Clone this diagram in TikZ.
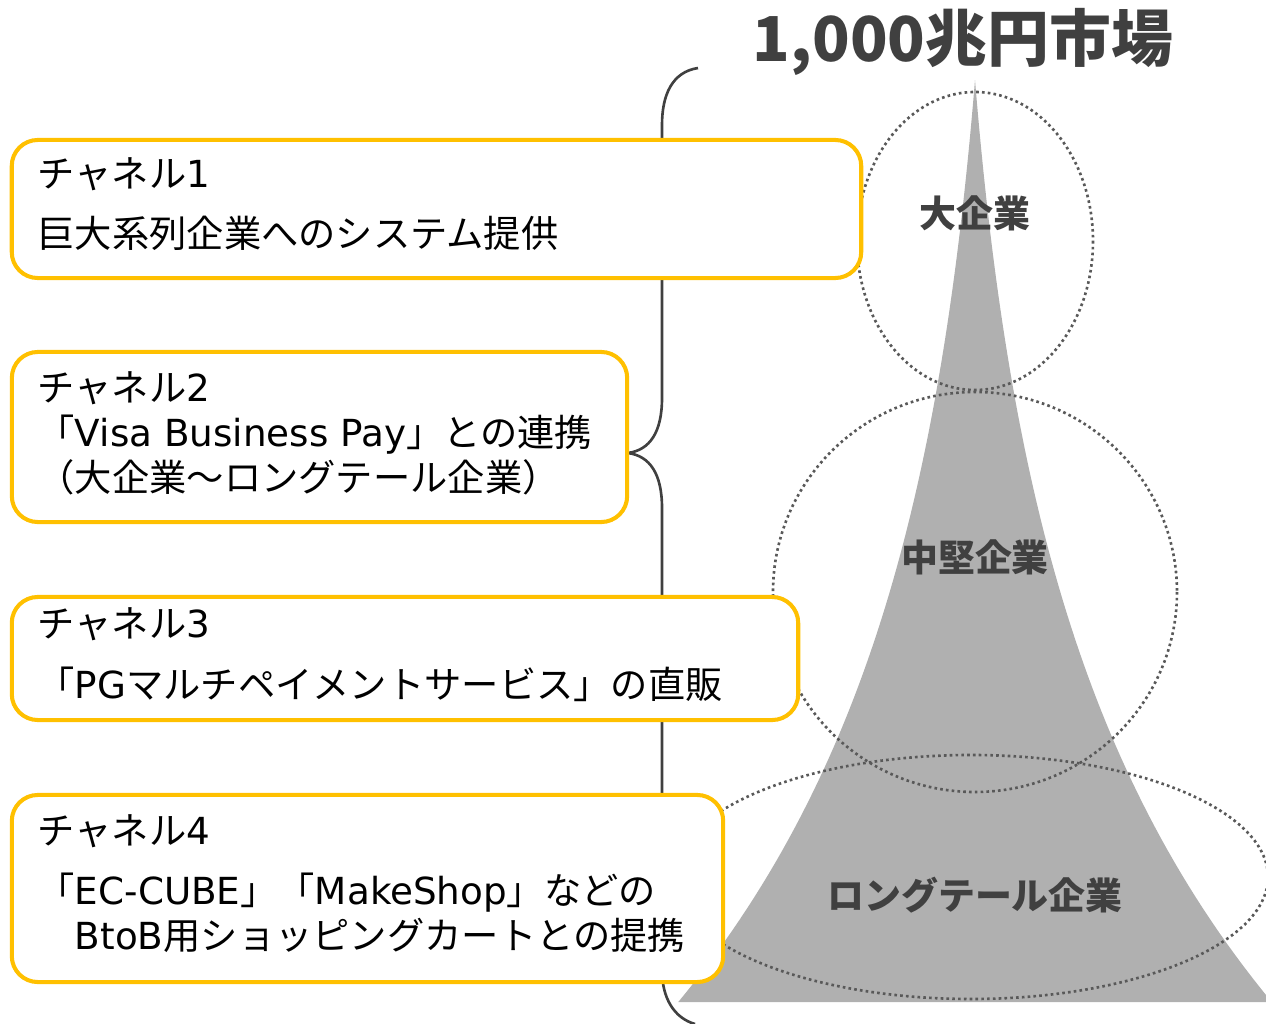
\documentclass[tikz,border=0pt]{standalone}
\usepackage{fontspec}
\setmainfont{Noto Sans CJK JP}
\newfontfamily\latinfont{DejaVu Sans}
\newcommand{\lat}[1]{{\latinfont #1}}
\definecolor{chyellow}{HTML}{FFC000}
\definecolor{inkgray}{HTML}{404040}
\definecolor{spikegray}{HTML}{B0B0B0}
\definecolor{dotgray}{HTML}{595959}

\begin{document}
\begin{tikzpicture}[x=0.01cm, y=-0.01cm,
  chbox/.style={draw=chyellow, line width=1.15pt, fill=white, rounded corners=0.26cm, inner sep=0pt},
  chtext/.style={anchor=base west, inner sep=0pt, font=\fontsize{10.6pt}{12pt}\selectfont},
  seglabel/.style={text=inkgray, inner sep=0pt, font=\fontsize{10.5pt}{12pt}\selectfont\bfseries},
  zone/.style={draw=dotgray, line width=0.75pt, dash pattern=on 0.75pt off 0.9pt},
  brace/.style={draw=inkgray, line width=0.75pt}]

\useasboundingbox (0,0) rectangle (1266,1024);

% Market spike (half width grows exponentially from the apex)
\coordinate (apex) at (975,80);
\fill[spikegray] plot[domain=922:0, samples=80] ({975-32.8*(exp(0.0025*\x)-1)}, {80+\x})
  -- plot[domain=0:922, samples=80] ({975+32.8*(exp(0.0025*\x)-1)}, {80+\x})
  -- cycle;

% Segments
\draw[zone] (975,241) ellipse [x radius=118, y radius=149];
\draw[zone] (975,592) ellipse [x radius=202, y radius=200];
\draw[zone] (971,877) ellipse [x radius=297, y radius=122];

\node[seglabel] (large) at (975,213) {大企業};
\node[seglabel] (mid) at (975,557) {中堅企業};
\node[seglabel] (tail) at (975,895) {ロングテール企業};

% Title
\node[text=inkgray, font=\fontsize{17.6pt}{20pt}\selectfont\bfseries] (title) at (963,42) {1,000兆円市場};

% Brace
\coordinate (bt) at (698,68);
\coordinate (tip) at (628,453);
\coordinate (bb) at (695,1024);
\draw[brace] (bt) .. controls (672,72) and (662,95) .. (662,125) -- (662,398)
  .. controls (662,432) and (650,450) .. (tip)
  .. controls (650,456) and (662,474) .. (662,508) -- (662,970)
  .. controls (662,998) and (674,1018) .. (bb);

% Channels
\node[chbox, minimum width=8.49cm, minimum height=1.38cm] (ch1) at (436.5,209) {};
\node[chbox, minimum width=6.15cm, minimum height=1.70cm] (ch2) at (319.5,437) {};
\node[chbox, minimum width=7.86cm, minimum height=1.23cm] (ch3) at (405,658.5) {};
\node[chbox, minimum width=7.11cm, minimum height=1.87cm] (ch4) at (367.5,888.5) {};

\node[chtext] (ch1a) at (37,187) {チャネル\lat{1}};
\node[chtext] (ch1b) at (37,247) {巨大系列企業へのシステム提供};

\node[chtext] (ch2a) at (37,401) {チャネル\lat{2}};
\node[chtext] (ch2b) at (37,446) {「\lat{Visa Business Pay}」との連携};
\node[chtext] (ch2c) at (37,491) {（大企業～ロングテール企業）};

\node[chtext] (ch3a) at (37,637) {チャネル\lat{3}};
\node[chtext] (ch3b) at (37,698) {「\lat{PG}マルチペイメントサービス」の直販};

\node[chtext] (ch4a) at (37,844) {チャネル\lat{4}};
\node[chtext] (ch4b) at (37,904) {「\lat{EC-CUBE}」「\lat{MakeShop}」などの};
\node[chtext] (ch4c) at (37,949) {　\lat{BtoB}用ショッピングカートとの提携};

\end{tikzpicture}
\end{document}
